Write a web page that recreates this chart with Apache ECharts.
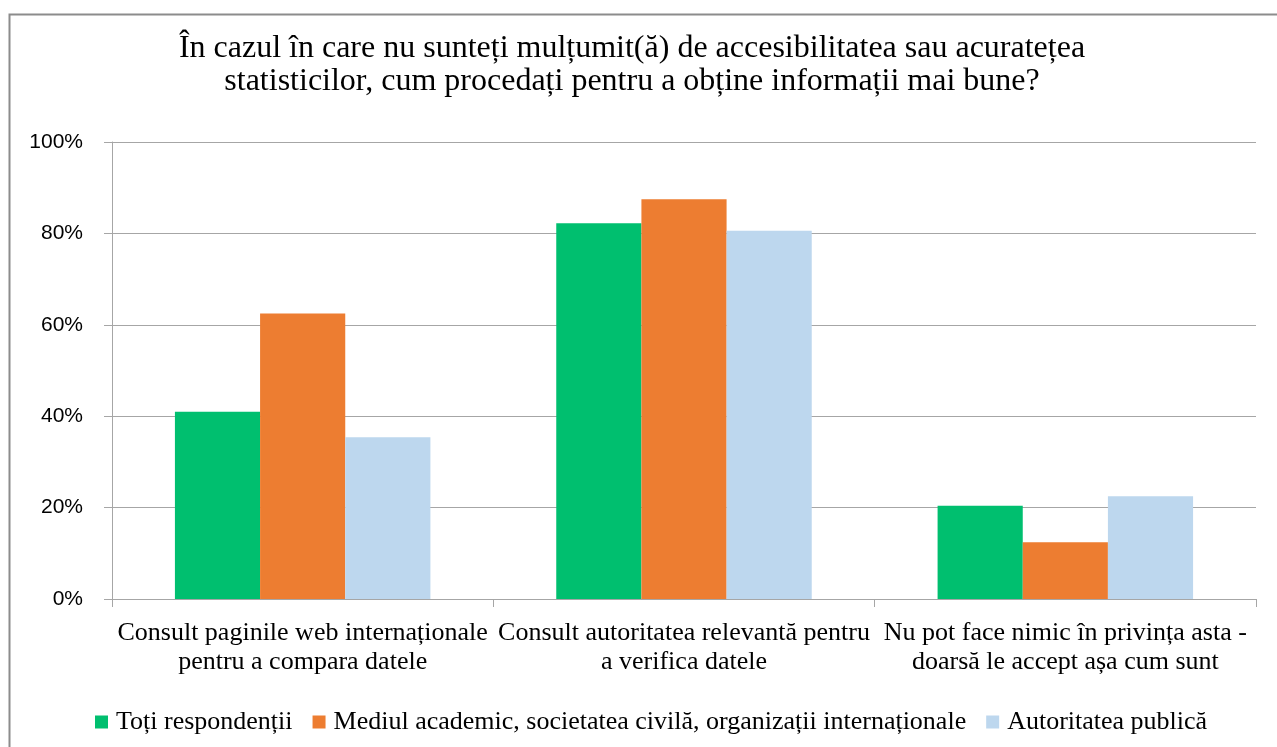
<!DOCTYPE html>
<html>
<head>
<meta charset="utf-8">
<script src="https://cdn.jsdelivr.net/npm/echarts@6/dist/echarts.min.js"></script>
<style>
  html, body { margin: 0; padding: 0; background: #fff; }
  #chart { width: 1277px; height: 747px; }
</style>
</head>
<body>
<div id="chart"></div>
<script>
// categorii
const categories = [
  'Consult paginile web internaționale\npentru a compara datele',
  'Consult autoritatea relevantă pentru\na verifica datele',
  'Nu pot face nimic în privința asta -\ndoarsă le accept așa cum sunt'
];
const seriesNames = [
  'Toți respondenții',
  'Mediul academic, societatea civilă, organizații internaționale',
  'Autoritatea publică'
];
// valori (%)
const totiData = [41.0, 82.2, 20.4];
const mediulData = [62.5, 87.5, 12.4];
const autoritateaData = [35.4, 80.6, 22.5];
const yTicks = [0, 20, 40, 60, 80, 100];

const colors = ['#00bf6f', '#ed7d31', '#bdd7ee'];
const serif = '"Liberation Serif", "DejaVu Serif", serif';
const sans = '"Liberation Sans", "DejaVu Sans", sans-serif';

let myChart = echarts.init(document.getElementById('chart'));
let option = {
  animation: false,
  color: colors,
  graphic: [
    {
      type: 'rect',
      shape: { x: 9.5, y: 14.5, width: 1300, height: 800 },
      style: { fill: 'none', stroke: '#8c8c8c', lineWidth: 2 },
      silent: true
    }
  ],
  title: {
    text: 'În cazul în care nu sunteți mulțumit(ă) de accesibilitatea sau acuratețea\nstatisticilor, cum procedați pentru a obține informații mai bune?',
    left: 627,
    top: 27,
    textAlign: 'center',
    textStyle: {
      fontFamily: serif,
      fontWeight: 'normal',
      fontSize: 32,
      lineHeight: 33,
      color: '#000'
    }
  },
  legend: {
    data: seriesNames,
    left: 90,
    top: 704,
    icon: 'rect',
    itemWidth: 13,
    itemHeight: 13,
    itemGap: 20,
    textStyle: {
      fontFamily: serif,
      fontSize: 26,
      color: '#000',
      padding: [0, 0, 0, 3]
    }
  },
  grid: {
    left: 112,
    right: 21,
    top: 142,
    bottom: 148,
    containLabel: false
  },
  xAxis: {
    type: 'category',
    data: categories,
    axisLine: { lineStyle: { color: '#a6a6a6', width: 1 } },
    axisTick: { show: true, length: 8, lineStyle: { color: '#a6a6a6' } },
    axisLabel: {
      interval: 0,
      margin: 20,
      fontFamily: serif,
      fontSize: 26,
      lineHeight: 29,
      color: '#000'
    }
  },
  yAxis: {
    type: 'value',
    min: yTicks[0],
    max: yTicks[yTicks.length - 1],
    interval: 20,
    axisLine: { show: true, lineStyle: { color: '#a6a6a6', width: 1 } },
    axisTick: { show: true, length: 8, lineStyle: { color: '#a6a6a6' } },
    splitLine: { lineStyle: { color: '#a6a6a6', width: 1 } },
    axisLabel: {
      margin: 29,
      formatter: '{value}%',
      fontFamily: sans,
      fontSize: 21,
      color: '#000'
    }
  },
  series: [
    {
      name: seriesNames[0],
      type: 'bar',
      data: totiData,
      barGap: '0%',
      barCategoryGap: '33%'
    },
    {
      name: seriesNames[1],
      type: 'bar',
      data: mediulData,
      barGap: '0%',
      barCategoryGap: '33%'
    },
    {
      name: seriesNames[2],
      type: 'bar',
      data: autoritateaData,
      barGap: '0%',
      barCategoryGap: '33%'
    }
  ]
};
myChart.setOption(option);
</script>
</body>
</html>
